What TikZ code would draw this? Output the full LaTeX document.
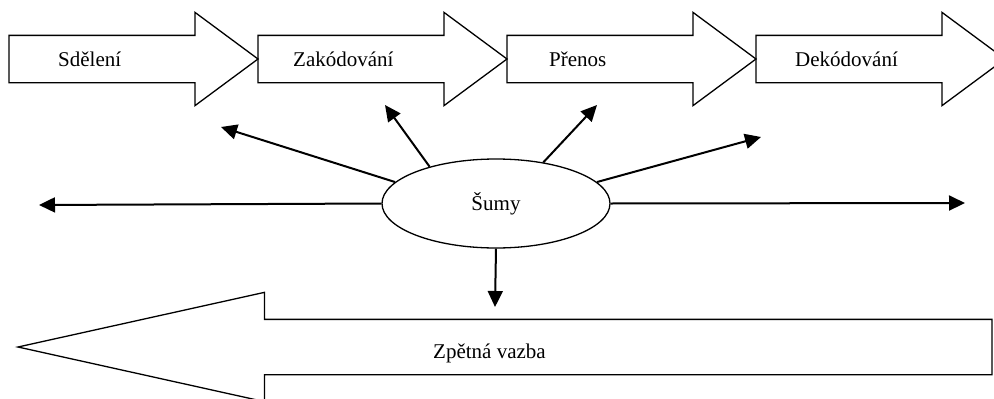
\documentclass[tikz,border=0pt]{standalone}
\usepackage{fontspec}
\setmainfont{Liberation Serif}
\usepackage{tikz}
\usetikzlibrary{positioning, shapes.arrows, shapes.geometric, arrows.meta}

\begin{document}
\begin{tikzpicture}[x = 1pt, y = -1pt, node distance = 0pt]
            \tikzstyle{stage} = [single arrow, draw, line width = 1.3pt, outer sep = 0pt, inner xsep = 0pt, inner ysep = 23pt, minimum height = 249pt, single arrow head extend = 23pt, single arrow tip angle = 73, anchor = tail]
            \tikzstyle{back} = [single arrow, draw, line width = 1.3pt, outer sep = 0pt, inner xsep = 0pt, inner ysep = 27pt, minimum height = 974pt, single arrow head extend = 27pt, single arrow tip angle = 25, shape border rotate = 180, anchor = tail]
            \tikzstyle{txt} = [inner sep = 0pt, font = \fontsize{21}{24}\selectfont, text height = 17pt, text depth = 2pt]
            \tikzstyle{noise} = [-{Triangle[length = 16pt, width = 15pt]}, line width = 2pt]
            \useasboundingbox (0, 0) rectangle (994, 399);

            \node [stage] (S1) at (9, 59) {};
            \node [stage] (S2) at (S1.tip) {};
            \node [stage] (S3) at (S2.tip) {};
            \node [stage] (S4) at (S3.tip) {};

            \node [txt, right = 49pt of S1.tail] (T1) {Sdělení};
            \node [txt, right = 35pt of S2.tail] (T2) {Zakódování};
            \node [txt, right = 42pt of S3.tail] (T3) {Přenos};
            \node [txt, right = 39pt of S4.tail] (T4) {Dekódování};

            \node [ellipse, draw, line width = 1.3pt, inner sep = 0pt, minimum width = 228pt, minimum height = 89pt, font = \fontsize{21}{24}\selectfont] (N) at (496, 203.5) {Šumy};

            \node [back] (F) at (992, 347) {};
            \node [txt, anchor = base west] (T5) at ([xshift = -559pt, yshift = -11pt] F.tail) {Zpětná vazba};

            \coordinate (E1) at (39, 205);
            \coordinate (E2) at (221, 127);
            \coordinate (E3) at (385, 105);
            \coordinate (E4) at (597, 105);
            \coordinate (E5) at (761, 137);
            \coordinate (E6) at (965, 203);
            \coordinate (E7) at (495, 307);

            \draw [noise] (N.west) to (E1);
            \draw [noise] (N.168) to (E2);
            \draw [noise] (N.151) to (E3);
            \draw [noise] (N.41) to (E4);
            \draw [noise] (N.12) to (E5);
            \draw [noise] (N.east) to (E6);
            \draw [noise] (N.south) to (E7);
        \end{tikzpicture}
\end{document}
